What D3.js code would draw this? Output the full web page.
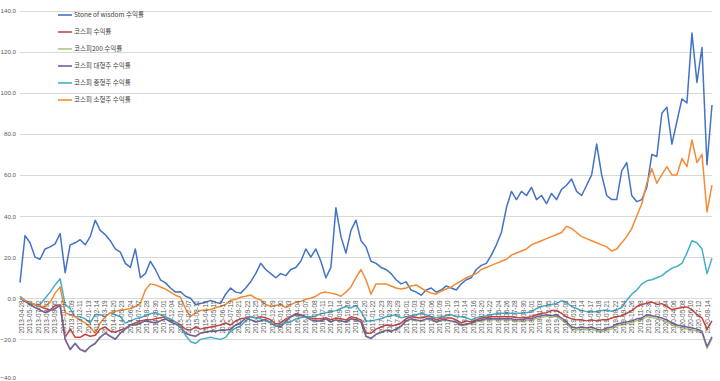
<!DOCTYPE html>
<html><head><meta charset="utf-8">
<script src="https://cdn.jsdelivr.net/npm/d3@7"></script>
<style>html,body{margin:0;padding:0;background:#fff;}svg{display:block;font-family:"Noto Sans CJK KR","Noto Sans",sans-serif;}</style>
</head><body><svg id="c" width="720" height="381"></svg>
<script>
const seriesNames = ["Stone of wisdom 수익률","코스피 수익률","코스피200 수익률","코스피 대형주 수익률","코스피 중형주 수익률","코스피 소형주 수익률"];
const seriesColors = ["#4472C4","#D0413A","#A9CB7B","#7A5BA8","#45AECB","#F48B35"];
const yTicks = [-40,-20,0,20,40,60,80,100,120,140];
const tickLabels = ["2013-04-28","2013-05-30","2013-07-02","2013-08-03","2013-09-05","2013-10-07","2013-11-09","2013-12-11","2014-01-13","2014-02-14","2014-03-19","2014-04-20","2014-05-23","2014-06-24","2014-07-27","2014-08-28","2014-09-30","2014-11-01","2014-12-04","2015-01-05","2015-02-07","2015-03-11","2015-04-13","2015-05-15","2015-06-17","2015-07-19","2015-08-21","2015-09-22","2015-10-25","2015-11-26","2015-12-29","2016-01-30","2016-03-03","2016-04-04","2016-05-07","2016-06-08","2016-07-11","2016-08-12","2016-09-14","2016-10-16","2016-11-18","2016-12-20","2017-01-22","2017-02-23","2017-03-28","2017-04-29","2017-06-01","2017-07-03","2017-08-05","2017-09-06","2017-10-09","2017-11-10","2017-12-13","2018-01-14","2018-02-16","2018-03-20","2018-04-22","2018-05-24","2018-06-26","2018-07-28","2018-08-30","2018-10-01","2018-11-03","2018-12-05","2019-01-07","2019-02-08","2019-03-13","2019-04-14","2019-05-17","2019-06-18","2019-07-21","2019-08-22","2019-09-24","2019-10-26","2019-11-28","2019-12-30","2020-02-01","2020-03-04","2020-04-06","2020-05-08","2020-06-10","2020-07-12","2020-08-14"];

const stoneOfWisdom = [7.6,30.5,27,20,19,24,25,26.5,31.5,12.5,26,27,28.5,26,30,38,33,31,28,24,22.5,17,15,24,10,12,18,14,9,7.5,5,3,3.2,1,0,-3,-2.5,-2,-1,-2,-2.5,2,5,3,2.5,5,8,12,17,14,12,10,12,11,14,15,18,24,20,24,18,10,15,44,30,22,33,38,28,25,18,17,15,14,12,9,7,8,4,3,1.5,4,5,3,4,6,5,4,7,9,10,14,16,17,21,26,32,44,52,48,52,50,54,48,50,46,51,48,53,55,58,52,50,55,60,75,60,50,48,48,62,66,50,47,48,54,70,69,90,93,75,86,97,95,129,105,122,65,94];
const kospi = [0,-1.2,-2.4,-3.2,-4,-5,-5.7,-3.5,-3.2,-19,-15,-19,-19,-17.5,-18.5,-18,-15,-14,-16,-16.5,-15.5,-14.5,-13,-12,-11,-10.5,-10.5,-10,-9.5,-9,-10.5,-11.5,-13,-15,-15.5,-14,-15,-14.5,-14,-13.5,-13,-12,-13,-11,-10,-9.6,-9,-9.5,-9,-9.5,-10.5,-12.5,-12,-10,-9,-8,-8.5,-9,-9.6,-10,-10,-9.5,-10.5,-9.6,-10,-10.5,-9,-9.6,-10.5,-17,-17,-15,-14,-13,-13.5,-13,-12,-10,-9,-9.3,-9.6,-9,-9,-10.5,-9.6,-9.6,-9.6,-10.5,-12,-11,-11.5,-10.5,-9.6,-9.3,-9,-9,-9,-9,-9,-9.3,-9.6,-9.3,-9,-8,-7.3,-7,-6,-6,-7.3,-9,-10,-10.5,-10.5,-11,-10.5,-11,-10.5,-10.5,-9.6,-9,-8.5,-7.3,-6,-4,-3,-2.4,-1.8,-3,-2.6,-4,-5.5,-5,-4.5,-4.2,-5.5,-8,-9.5,-15,-11];
const kospi200 = [0,-1.4,-2.9,-4.4,-5.6,-6.9,-6,-4.9,-3.4,-19.8,-24.6,-21.8,-24.7,-25.6,-23.3,-21.8,-18.8,-16.9,-18.3,-19.7,-16.9,-14.9,-12.9,-12.9,-11.9,-10.9,-11.4,-11.9,-10.9,-9.9,-11.4,-12.4,-13.9,-16.8,-17.8,-18.3,-16.9,-16.4,-15.9,-15.9,-15.4,-15.4,-14.9,-12.9,-11.9,-9.6,-10.4,-11.4,-10.9,-10.4,-11.9,-13.4,-13.9,-10.9,-8.9,-7.5,-8,-9,-10.5,-11,-11,-10,-11.5,-10.5,-11,-11.5,-10,-10.5,-11.5,-18.6,-19.7,-17.7,-16.7,-15.7,-16.2,-15.2,-13.7,-11.2,-10.2,-10.7,-11.2,-10.3,-10.3,-11.8,-10.8,-10.8,-11.3,-11.8,-13.4,-12.9,-12.4,-11.4,-10.9,-10.4,-10.5,-10.5,-10.5,-10.6,-10.6,-11.2,-11.3,-10.8,-10.8,-9.8,-9.3,-8.8,-9.3,-8.8,-10.5,-12.4,-14.9,-15.4,-14.9,-15.4,-14.9,-15.9,-16.4,-15.4,-14.9,-13.4,-12.9,-12.4,-11.9,-10.9,-10.5,-8.9,-9.4,-9.9,-10.5,-11.4,-12.9,-13.9,-14.4,-14.9,-15.4,-15.9,-16.9,-24.5,-19.6];
const kospiLarge = [0,-1.5,-3,-4.5,-5.7,-7,-6,-5,-3.5,-20,-25,-22,-25,-26,-23.5,-22,-19,-17,-18.5,-20,-17,-15,-13,-13,-12,-11,-11.5,-12,-11,-10,-11.5,-12.5,-14,-17,-18,-18.5,-17,-16.5,-16,-16,-15.5,-15.5,-15,-13,-12,-9.6,-10.5,-11.5,-11,-10.5,-12,-13.5,-14,-11,-9,-7.5,-8,-9,-10.5,-11,-11,-10,-11.5,-10.5,-11,-11.5,-10,-10.5,-11.5,-18.5,-19.5,-17.5,-16.5,-15.5,-16,-15,-13.5,-11,-10,-10.5,-11,-10,-10,-11.5,-10.5,-10.5,-11,-11.5,-13,-12.5,-12,-11,-10.5,-10,-10,-10,-10,-10,-10,-10.5,-10.5,-10,-10,-9,-8.5,-8,-8.5,-8,-9.6,-11.5,-14,-14.5,-14,-14.5,-14,-15,-15.5,-14.5,-14,-12.5,-12,-11.5,-11,-10,-9.6,-8,-8.5,-9,-9.6,-10.5,-12,-13,-13.5,-14,-14.5,-15,-16,-23.5,-18.8];
const kospiMid = [1,-1,-2.4,-3,-3,0,3,6.5,9.5,-3,-5,-9,-9,-10,-12,-8,-8,-9,-7,-8,-9,-12,-11,-10,-9.5,-8.5,-7.5,-7,-8,-9,-10,-11.5,-14,-18,-21,-22,-20,-19.5,-19,-19.5,-20,-19,-16,-14.5,-13.5,-11,-9,-9.5,-10,-11,-12,-13.5,-13,-12,-11.5,-10,-9.5,-9,-9,-8.5,-7.5,-7,-6.5,-6,-5,-4,-4.7,-3.5,-6.5,-11,-11,-10.5,-10,-9,-8.5,-8,-9.5,-9,-8.5,-8,-7.3,-8,-9,-9.5,-9,-8.5,-8,-9,-9,-9.5,-10.5,-9.5,-9,-8.5,-8,-7.5,-7.3,-7.3,-7.3,-7.3,-7.3,-7,-6.5,-5,-4,-3.5,-3,-2.5,-1.2,-2,-4,-5,-6,-6.5,-6.5,-6.5,-6,-5.7,-6.3,-5.5,-4.5,-1,2,4,7,8.5,9,10,11,13,14.6,15.5,17,22,28,27,24,12,19.5];
const kospiSmall = [0,-1,-2,-3,-4,-4,-2,2.5,5.5,-7,-8,-9,-10.5,-12,-14,-17,-12,-9,-7,-6.5,-5.7,-5.5,-5,-4,-2.5,4,7,6.5,5.5,4.5,3,1.5,0.5,-5,-9,-7,-6,-5.7,-5.5,-4.5,-4,-3,-1,-0.5,0.5,1,1.6,0,-0.8,-3,-4,-3.5,-3,-4.5,-3,-2,-1.5,-0.5,0,1,2.6,3,2.5,2,1,3,5.5,10,14,9,2,7,7,7,6,5,4.5,5,6,6.5,5,3.5,2.6,2,3.5,4.5,5.5,7,8.5,10,11,12,14,15,16,17,18,19,21,22,23,24,26,27,28,29,30,31,32,35,34,32,30,29,28,27,26,25,23,24,27,30,34,40,46,56,63,56,60,64,60,60,68,64,77,66,70,42,55];

const series = [stoneOfWisdom,kospi,kospi200,kospiLarge,kospiMid,kospiSmall];

const svg = d3.select("#c");
const N = stoneOfWisdom.length;
const x = d3.scaleLinear().domain([0, N-1]).range([20, 712]);
const y = d3.scaleLinear().domain([-40, 140]).range([380.5, 10.5]);
const xl = d3.scalePoint().domain(tickLabels).range([21, 707]);

// gridlines
svg.append("g").selectAll("line").data(yTicks).join("line")
  .attr("x1", 20).attr("x2", 712)
  .attr("y1", d => Math.round(y(d)) + 0.5).attr("y2", d => Math.round(y(d)) + 0.5)
  .attr("stroke", "#d9d9d9").attr("stroke-width", 1);

// y axis labels
const yAxis = d3.axisLeft(y).tickValues(yTicks).tickFormat(d3.format(".1f")).tickSize(0).tickPadding(0);
const gy = svg.append("g").attr("transform", "translate(16,0)").call(yAxis);
gy.select(".domain").remove();
gy.selectAll("text").attr("fill", "#595959").style("font-size", "6.2px")
  .attr("dy", d => d === -40 ? "-0.1em" : "0.32em");

// lines
const line = d3.line().x((d, i) => x(i)).y(d => y(d));
series.forEach((s, k) => {
  svg.append("path").datum(s).attr("d", line)
    .attr("fill", "none").attr("stroke", seriesColors[k])
    .attr("stroke-width", 1.5).attr("stroke-linejoin", "round");
});

// x axis labels (category axis crosses at 0)
const xAxis = d3.axisBottom(xl).tickSize(0).tickPadding(0);
const gx = svg.append("g").attr("transform", `translate(0,${y(0)})`).call(xAxis);
gx.select(".domain").remove();
gx.selectAll("text")
  .attr("transform", "translate(0,2) rotate(-90)")
  .attr("text-anchor", "end").attr("x", 0).attr("y", 0).attr("dy", "0.35em")
  .attr("fill", "#595959").style("font-size", "6.5px");

// legend
const lg = svg.append("g");
seriesNames.forEach((n, k) => {
  const yy = 15 + k * 17;
  lg.append("line").attr("x1", 58).attr("x2", 72).attr("y1", yy).attr("y2", yy)
    .attr("stroke", seriesColors[k]).attr("stroke-width", 1.6);
  lg.append("text").attr("x", 74).attr("y", yy).attr("dy", "0.35em")
    .attr("fill", "#404040").style("font-size", "6.5px").text(n);
});
</script></body></html>
